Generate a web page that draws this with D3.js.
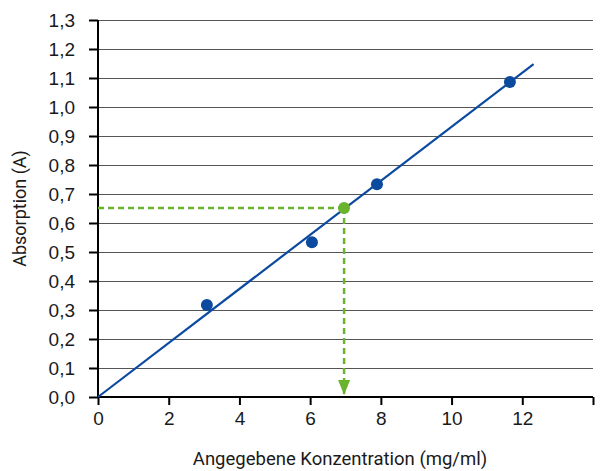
<!DOCTYPE html>
<html>
<head>
<meta charset="utf-8">
<script src="https://cdn.jsdelivr.net/npm/d3@7"></script>
<style>
  body { margin: 0; background: #fff; }
  svg { display: block; font-family: Roboto, "Open Sans", sans-serif; }
</style>
</head>
<body>
<div id="chart"></div>
<script>
// Kalibriergerade

var xTicks = [0, 2, 4, 6, 8, 10, 12, 14];
var yTicks = [0, 0.1, 0.2, 0.3, 0.4, 0.5, 0.6, 0.7, 0.8, 0.9, 1.0, 1.1, 1.2, 1.3];

var konzentration = [3.08, 6.05, 7.89, 11.65];
var absorption = [0.317, 0.534, 0.734, 1.086];

var probeX = 6.96;
var probeY = 0.652;

var fitLine = [[0, 0], [12.32, 1.148]];

var svgWidth = 602, svgHeight = 471;
var plotLeft = 98, plotRight = 593, plotTop = 20, plotBottom = 397;

var svg = d3.select("#chart")
    .append("svg")
        .attr("width", svgWidth)
        .attr("height", svgHeight);

var x = d3.scaleLinear()
    .domain([0, 14])
    .range([plotLeft, plotRight]);

var y = d3.scaleLinear()
    .domain([0, 1.3])
    .range([plotBottom, plotTop]);

var fmt = function(d) { return d3.format(".1f")(d).replace(".", ","); };

// gridlines
svg.append("g")
    .selectAll("line")
    .data(yTicks.filter(function(d) { return d > 0; }))
    .enter().append("line")
        .attr("x1", plotLeft)
        .attr("x2", plotRight)
        .attr("y1", function(d) { return Math.round(y(d)) + 0.5; })
        .attr("y2", function(d) { return Math.round(y(d)) + 0.5; })
        .attr("stroke", "#555")
        .attr("stroke-width", 1.2);

// y axis
var yAxis = svg.append("g")
    .attr("transform", "translate(" + plotLeft + ",0)")
    .call(d3.axisLeft(y).tickValues(yTicks).tickFormat(fmt).tickSize(9).tickPadding(14));
yAxis.select(".domain").attr("stroke-width", 2).attr("d", "M0," + plotTop + "V" + plotBottom);
yAxis.selectAll(".tick line").attr("stroke-width", 2);
yAxis.selectAll("text").style("font-size", "19px").attr("fill", "#1a1a1a");

// x axis
var xAxis = svg.append("g")
    .attr("transform", "translate(0," + plotBottom + ")")
    .call(d3.axisBottom(x).tickValues(xTicks)
        .tickFormat(function(d) { return d === 14 ? "" : d; })
        .tickSize(8).tickPadding(7));
xAxis.select(".domain").attr("stroke-width", 2).attr("d", "M" + plotLeft + ",0H" + plotRight);
xAxis.selectAll(".tick line").attr("stroke-width", 2);
xAxis.selectAll("text").style("font-size", "19px").attr("fill", "#1a1a1a");

// green dashed guide
svg.append("defs").append("marker")
    .attr("id", "arrow")
    .attr("viewBox", "0 0 10 10")
    .attr("refX", 10).attr("refY", 5)
    .attr("markerWidth", 15).attr("markerHeight", 12)
    .attr("markerUnits", "userSpaceOnUse")
    .attr("orient", "auto")
    .attr("preserveAspectRatio", "none")
    .append("path")
        .attr("d", "M0,0L10,5L0,10Z")
        .attr("fill", "#6ab42d");

svg.append("line")
    .attr("x1", x(0)).attr("x2", x(probeX))
    .attr("y1", y(probeY)).attr("y2", y(probeY))
    .attr("stroke", "#6ab42d")
    .attr("stroke-width", 2.5)
    .attr("stroke-dasharray", "6,4");

svg.append("line")
    .attr("x1", x(probeX)).attr("x2", x(probeX))
    .attr("y1", y(probeY)).attr("y2", y(0) - 2)
    .attr("stroke", "#6ab42d")
    .attr("stroke-width", 2.5)
    .attr("stroke-dasharray", "6,4")
    .attr("marker-end", "url(#arrow)");

// regression line
svg.append("line")
    .attr("x1", x(fitLine[0][0])).attr("y1", y(fitLine[0][1]))
    .attr("x2", x(fitLine[1][0])).attr("y2", y(fitLine[1][1]))
    .attr("stroke", "#0b4a9e")
    .attr("stroke-width", 2.2);

// measured points
svg.selectAll("mycircle")
    .data(konzentration)
    .enter().append("circle")
        .attr("cx", function(d) { return x(d); })
        .attr("cy", function(d, i) { return y(absorption[i]); })
        .attr("r", 6)
        .style("fill", "#0b4a9e");

svg.append("circle")
    .attr("cx", x(probeX))
    .attr("cy", y(probeY))
    .attr("r", 6)
    .style("fill", "#6ab42d");

// axis titles
svg.append("text")
    .attr("x", 340)
    .attr("y", 465)
    .attr("text-anchor", "middle")
    .style("font-size", "18.5px")
    .attr("fill", "#1a1a1a")
    .text("Angegebene Konzentration (mg/ml)");

svg.append("text")
    .attr("transform", "translate(26," + y(0.65) + ")rotate(-90)")
    .attr("text-anchor", "middle")
    .style("font-size", "18px")
    .attr("fill", "#1a1a1a")
    .text("Absorption (A)");
</script>
</body>
</html>
